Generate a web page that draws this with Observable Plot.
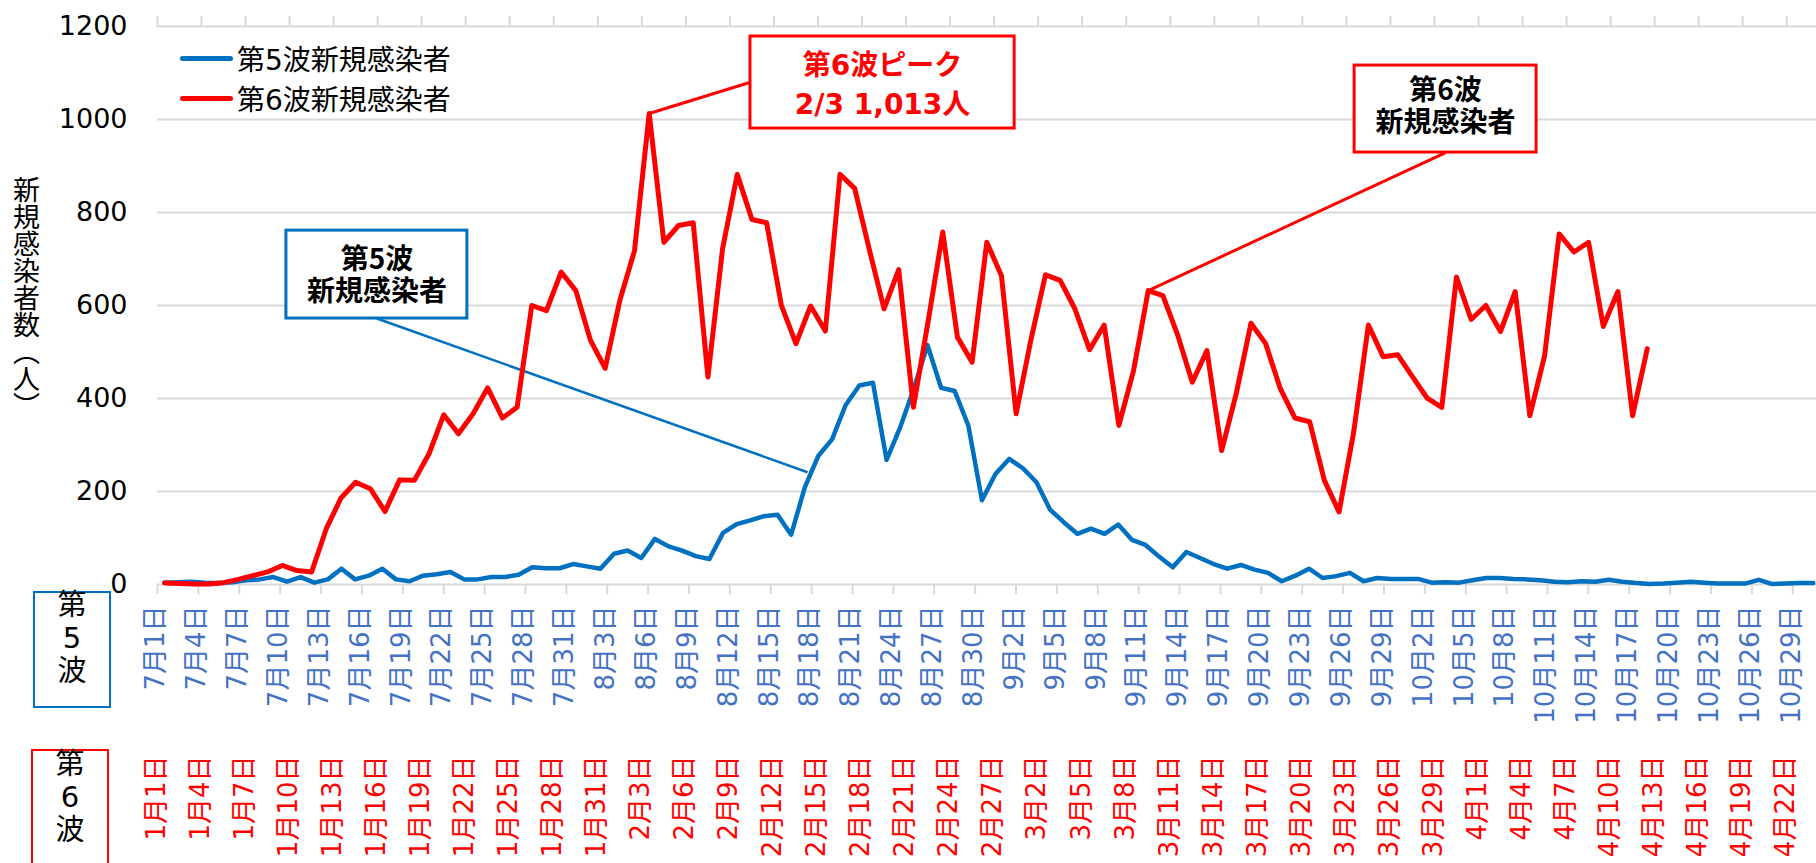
<!DOCTYPE html>
<html lang="ja">
<head>
<meta charset="utf-8">
<script src="https://cdn.jsdelivr.net/npm/d3@7"></script>
<script src="https://cdn.jsdelivr.net/npm/@observablehq/plot@0.6"></script>
<style>
  html, body { margin: 0; padding: 0; background: #fff; overflow: hidden; }
  #wrap { position: relative; width: 1816px; height: 863px; overflow: hidden; background: #fff;
          font-family: "DejaVu Sans", "Noto Sans CJK JP", sans-serif; }
  #wrap .layer { position: absolute; left: 0; top: 0; }
  .legend-row { position: absolute; left: 180px; height: 40px; display: flex; align-items: center; font-size: 28px; color: #000; }
  .swatch { width: 53px; height: 5px; border-radius: 3px; margin-right: 4px; }
  .ytitle { position: absolute; left: 13px; top: 176px; writing-mode: vertical-rl; font-size: 27px; line-height: 27px;
            font-family: "Noto Sans CJK JP", sans-serif; color: #000; }
  .wavebox { position: absolute; width: 74px; box-sizing: content-box; }
  .wavetext { position: absolute; width: 78px; text-align: center; font-size: 29px; line-height: 33px; color: #000; }
</style>
</head>
<body>
<div id="wrap">
  <div id="p5" class="layer"></div>
  <div id="p6" class="layer"></div>
</div>
<script>
// ---- data ----
const wave5Labels = ["7月1日","7月4日","7月7日","7月10日","7月13日","7月16日","7月19日","7月22日","7月25日","7月28日","7月31日",
  "8月3日","8月6日","8月9日","8月12日","8月15日","8月18日","8月21日","8月24日","8月27日","8月30日",
  "9月2日","9月5日","9月8日","9月11日","9月14日","9月17日","9月20日","9月23日","9月26日","9月29日",
  "10月2日","10月5日","10月8日","10月11日","10月14日","10月17日","10月20日","10月23日","10月26日","10月29日"];
const wave6Labels = ["1月1日","1月4日","1月7日","1月10日","1月13日","1月16日","1月19日","1月22日","1月25日","1月28日","1月31日",
  "2月3日","2月6日","2月9日","2月12日","2月15日","2月18日","2月21日","2月24日","2月27日",
  "3月2日","3月5日","3月8日","3月11日","3月14日","3月17日","3月20日","3月23日","3月26日","3月29日",
  "4月1日","4月4日","4月7日","4月10日","4月13日","4月16日","4月19日","4月22日"];

// 第5波 daily new cases from 7/1 (day 0)
const wave5Cases = [4,5,6,4,3,5,9,11,16,6,16,4,11,34,11,19,34,11,7,19,22,27,11,11,16,16,21,37,35,35,44,
  39,34,66,73,57,98,82,73,61,55,111,130,138,147,150,107,209,277,312,386,428,434,268,338,421,515,423,416,342,181,
  238,270,250,220,161,134,109,120,109,129,96,85,60,37,70,57,44,34,42,32,25,7,19,34,14,18,25,7,14,12,
  12,12,4,5,4,9,14,14,12,11,9,6,5,7,6,10,6,3,1,2,4,6,4,2,2,2,10,1,2,3,3];
// 第6波 daily new cases from 1/1 (day 0)
const wave6Cases = [3,2,1,1,4,11,19,27,41,30,27,120,186,220,206,157,225,224,281,365,324,367,423,358,381,600,589,672,632,525,465,
  611,718,1013,736,772,778,446,722,882,785,778,601,518,599,545,882,852,720,593,677,381,565,758,532,478,736,664,367,
  525,666,654,593,505,558,342,460,632,621,537,435,503,288,411,562,518,421,358,350,224,156,328,558,490,494,447,401,381,661,570,
  600,544,630,363,491,754,715,736,555,630,363,507];

const yTicks = [0,200,400,600,800,1000,1200];
const seriesNames = ["第5波新規感染者","第6波新規感染者"];
const seriesColors = ["#0070C0","#FF0000"];

// annotations (data units of each wave's own scales)
const note5 = [{x1: 8.96, x2: 22.24, y1: 572, y2: 761, cx: 15.6, cy: 667, text: "第5波\n新規感染者"}];
const leader5 = [{x1: 15.6, y1: 572, x2: 47.2, y2: 241.5}];
const note6Peak = [{x1: 39.9, x2: 57.9, y1: 980.6, y2: 1178.5, cx: 48.9, cy: 1080, text: "第6波ピーク\n2/3 1,013人"}];
const leader6Peak = [{x1: 39.9, y1: 1080, x2: 33, y2: wave6Cases[33]}];
const note6 = [{x1: 81.06, x2: 93.46, y1: 929, y2: 1116, cx: 87.26, cy: 1030, text: "第6波\n新規感染者"}];
const leader6 = [{x1: 87.26, y1: 929, x2: 67, y2: wave6Cases[67]}];

const FONT = '"DejaVu Sans", "Noto Sans CJK JP", sans-serif';
const W = 1816, H = 863, ML = 157, MT = 26, MB = 279;

const ticks5 = wave5Labels.map((label, k) => ({day: k * 3, label}));
const ticks6 = wave6Labels.map((label, k) => ({day: k * 3, label}));
const bounds5 = d3.range(-0.5, 121, 3);
const bounds6 = d3.range(-0.5, 112, 3);

// ---- wave 5 layer (bottom, with grid and y axis) ----
const p5 = Plot.plot({
  width: W, height: H, marginLeft: ML, marginRight: 0, marginTop: MT, marginBottom: MB,
  style: {background: "white", fontFamily: FONT},
  x: {type: "linear", domain: [-0.5, 121.24]},
  y: {domain: [0, 1200], axis: null},
  marks: [
    Plot.ruleY(yTicks, {stroke: "#D9D9D9", strokeWidth: 2}),
    Plot.text(yTicks, {y: d => d, text: d => String(d), frameAnchor: "left", textAnchor: "end", dx: -30, fontSize: 27, fill: "#000"}),
    Plot.axisX(bounds5, {tickSize: 10, tickFormat: () => "", stroke: "#D9D9D9", strokeWidth: 2, label: null}),
    Plot.text(ticks5, {x: "day", text: "label", frameAnchor: "bottom", rotate: -90, textAnchor: "end", dy: 21, fill: "#4472C4", fontSize: 26}),
    Plot.line(wave5Cases, {x: (d, i) => i, y: d => d, stroke: seriesColors[0], strokeWidth: 4.5, strokeLinejoin: "round", strokeLinecap: "round"}),
    Plot.link(leader5, {x1: "x1", y1: "y1", x2: "x2", y2: "y2", stroke: seriesColors[0], strokeWidth: 2.5}),
    Plot.rect(note5, {x1: "x1", x2: "x2", y1: "y1", y2: "y2", fill: "white", stroke: seriesColors[0], strokeWidth: 3}),
    Plot.text(note5, {x: "cx", y: "cy", text: "text", fontSize: 28, fontWeight: "bold", lineHeight: 1.15, fill: "#000",
      fontFamily: '"Noto Sans CJK JP", sans-serif'})
  ]
});
document.getElementById("p5").append(p5);

// ---- wave 6 layer (top, transparent) ----
const p6 = Plot.plot({
  width: W, height: H, marginLeft: ML, marginRight: 0, marginTop: MT, marginBottom: MB,
  style: {background: "none", fontFamily: FONT},
  x: {type: "linear", domain: [-0.5, 112.53]},
  y: {domain: [0, 1200], axis: null},
  marks: [
    Plot.axisX(bounds6, {anchor: "top", tickSize: 11, tickFormat: () => "", stroke: "#D9D9D9", strokeWidth: 2, label: null}),
    Plot.text(ticks6, {x: "day", text: "label", frameAnchor: "bottom", rotate: -90, textAnchor: "end", dy: 171, fill: "#FF0000", fontSize: 26}),
    Plot.line(wave6Cases, {x: (d, i) => i, y: d => d, stroke: seriesColors[1], strokeWidth: 5, strokeLinejoin: "round", strokeLinecap: "round"}),
    Plot.link(leader6Peak, {x1: "x1", y1: "y1", x2: "x2", y2: "y2", stroke: seriesColors[1], strokeWidth: 3}),
    Plot.link(leader6, {x1: "x1", y1: "y1", x2: "x2", y2: "y2", stroke: seriesColors[1], strokeWidth: 3}),
    Plot.rect(note6Peak, {x1: "x1", x2: "x2", y1: "y1", y2: "y2", fill: "white", stroke: seriesColors[1], strokeWidth: 3}),
    Plot.text(note6Peak, {x: "cx", y: "cy", text: "text", fontSize: 28, fontWeight: "bold", lineHeight: 1.36, fill: "#FF0000"}),
    Plot.rect(note6, {x1: "x1", x2: "x2", y1: "y1", y2: "y2", fill: "white", stroke: seriesColors[1], strokeWidth: 3}),
    Plot.text(note6, {x: "cx", y: "cy", text: "text", fontSize: 28, fontWeight: "bold", lineHeight: 1.15, fill: "#000",
      fontFamily: '"Noto Sans CJK JP", sans-serif'})
  ]
});
document.getElementById("p6").append(p6);

// ---- legend, axis title, wave boxes (HTML overlays) ----
const wrap = d3.select("#wrap");
seriesNames.forEach((name, k) => {
  const row = wrap.append("div").attr("class", "legend-row").style("top", (38 + 40 * k) + "px");
  row.append("div").attr("class", "swatch").style("background", seriesColors[k]);
  row.append("span").text(name);
});
wrap.append("div").attr("class", "ytitle").text("新規感染者数（人）");

const waveBoxes = [
  {label: ["第", "5", "波"], left: 33, top: 591, height: 113, color: "#0070C0", textTop: 589},
  {label: ["第", "6", "波"], left: 31, top: 749, height: 140, color: "#FF0000", textTop: 748}
];
waveBoxes.forEach(b => {
  wrap.append("div").attr("class", "wavebox")
    .style("left", b.left + "px").style("top", b.top + "px").style("height", b.height + "px")
    .style("border", "2px solid " + b.color);
  wrap.append("div").attr("class", "wavetext")
    .style("left", b.left + "px").style("top", b.textTop + "px")
    .html(b.label.join("<br>"));
});
</script>
</body>
</html>
